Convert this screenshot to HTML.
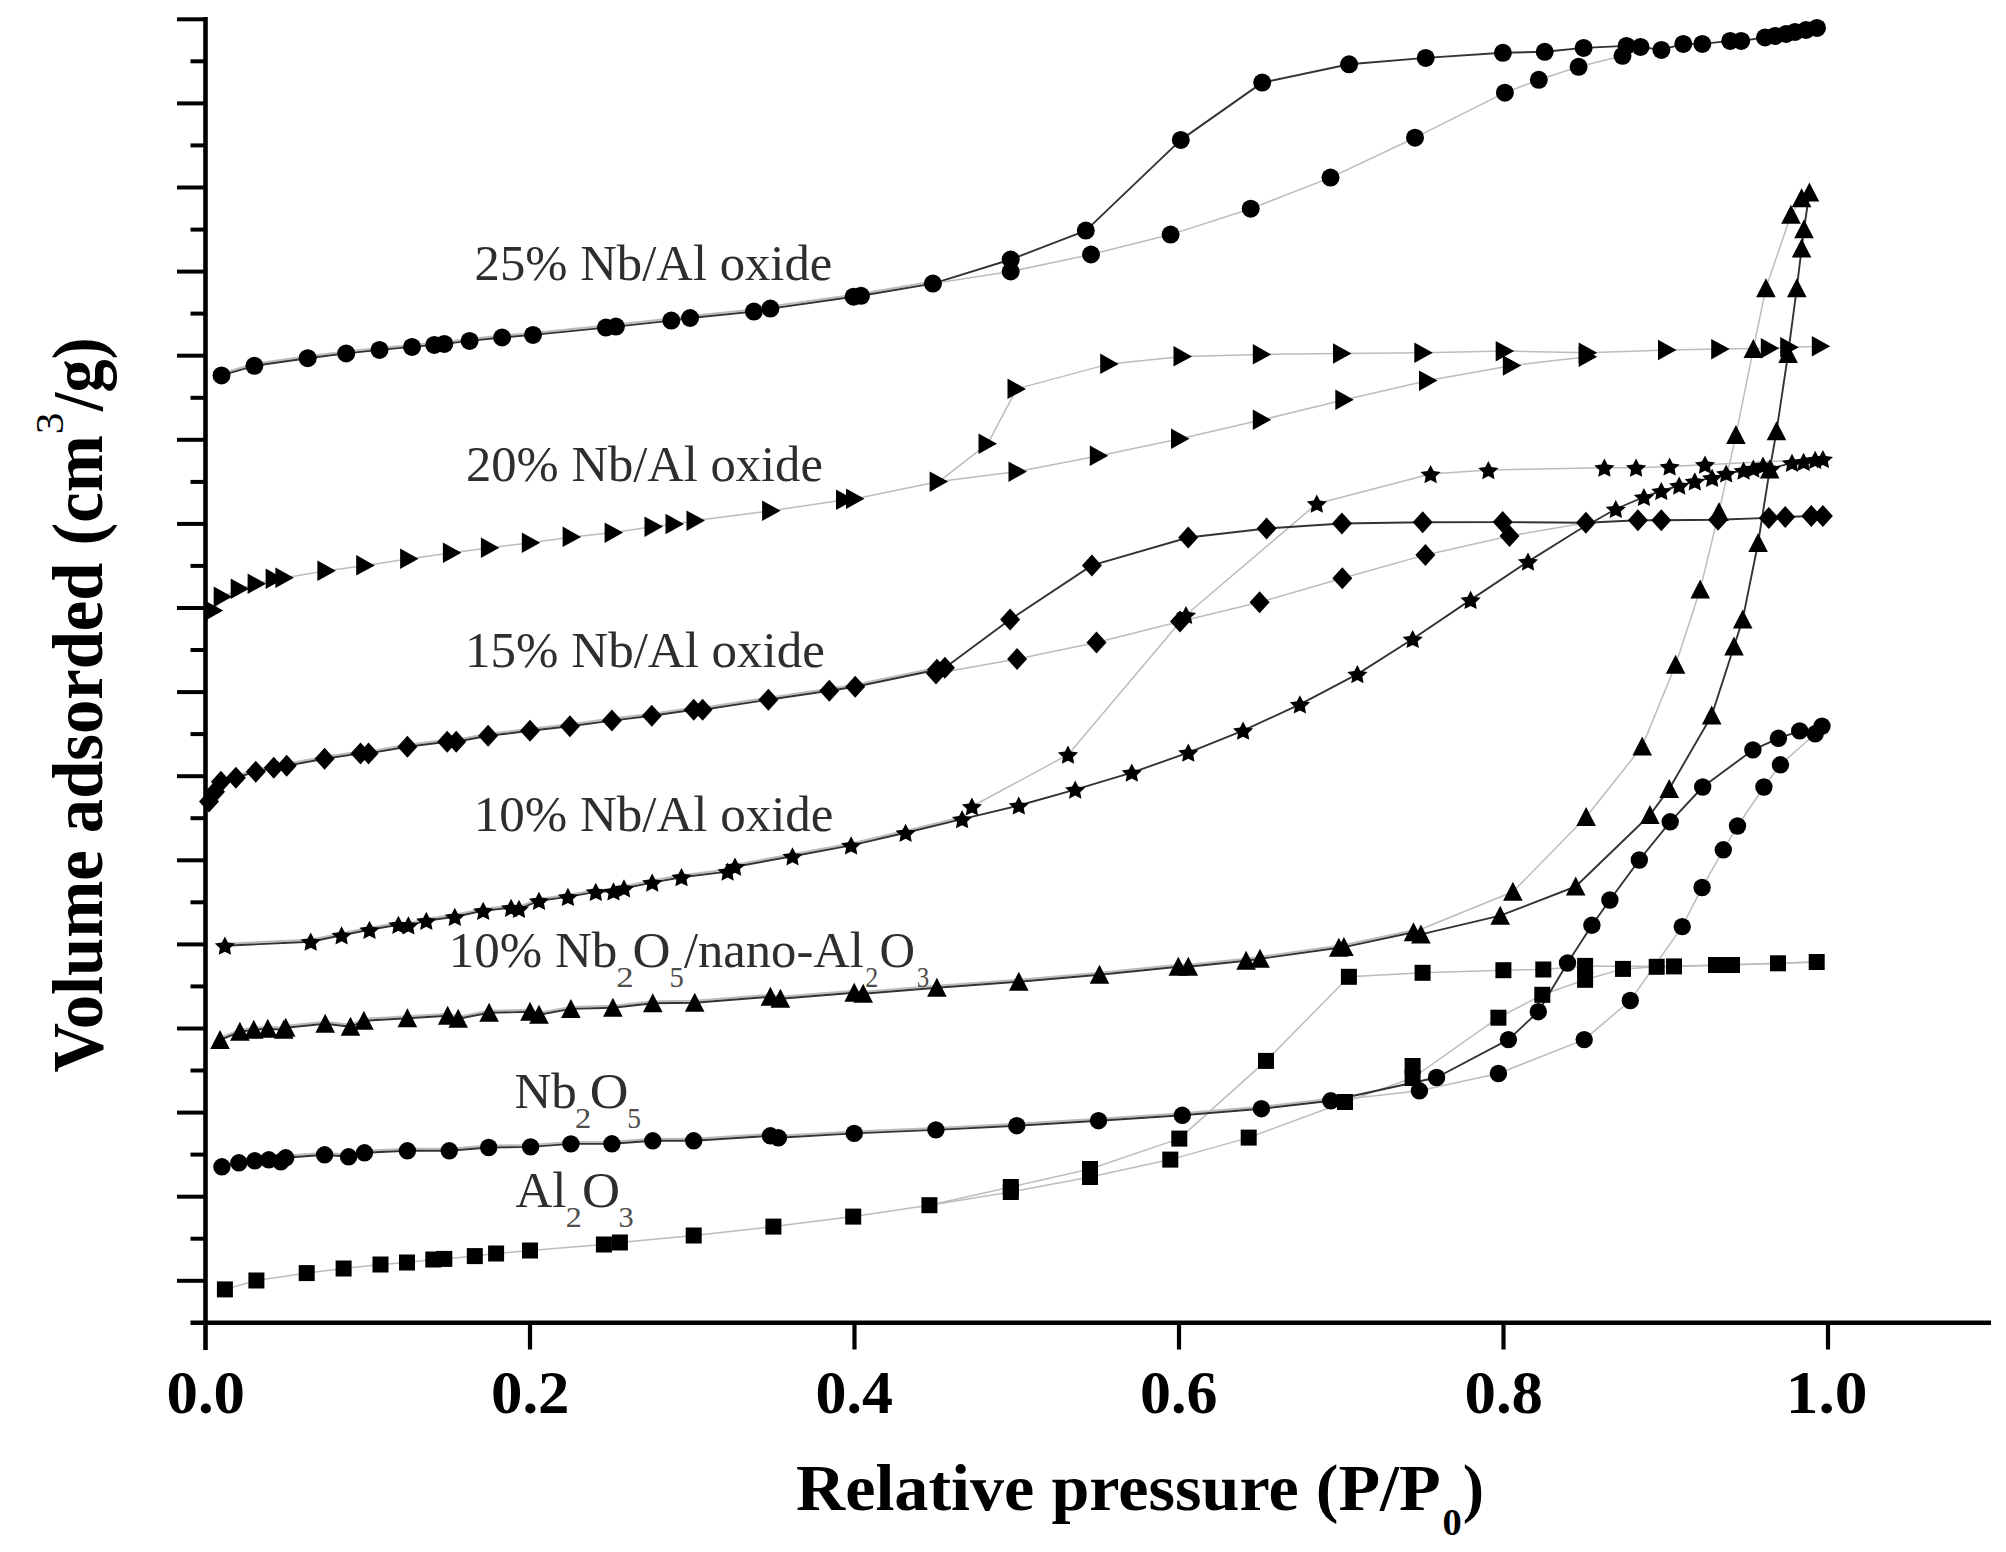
<!DOCTYPE html>
<html><head><meta charset="utf-8"><title>Isotherms</title><style>
html,body{margin:0;padding:0;background:#fff;}
body{width:2006px;height:1552px;overflow:hidden;}
svg{display:block;}
text{font-family:"Liberation Serif",serif;}
.tl{font-family:"Liberation Serif",serif;font-weight:bold;font-size:62px;fill:#000;}
.xt{font-family:"Liberation Serif",serif;font-weight:bold;font-size:65px;fill:#000;}
.yt{font-family:"Liberation Serif",serif;font-weight:bold;font-size:72px;fill:#000;}
.sub0{font-size:34px;}
.sup3{font-size:40px;font-weight:normal;}
.lb{font-family:"Liberation Serif",serif;font-size:51px;fill:#2a2a2a;}
.sb{font-size:29px;}
</style></head>
<body><svg width="2006" height="1552" viewBox="0 0 2006 1552">
<rect width="2006" height="1552" fill="#fff"/>
<g id="lines"><polyline points="224.9,1289.4 256.4,1280.5 306.7,1273.1 343.6,1268.5 380.5,1264.5 407.0,1262.5 433.3,1259.5 444.3,1258.9 474.8,1256.1 496.1,1253.5 530.0,1250.5 603.9,1244.5 619.9,1242.5 693.7,1235.5 773.4,1226.6 853.2,1216.6 929.4,1205.2" fill="none" stroke="#bcbcbc" stroke-width="1.5" stroke-linejoin="round"/><polyline points="929.4,1205.2 1010.8,1192.0 1090.0,1177.0 1170.3,1159.6 1248.7,1137.6 1345.0,1102.0 1412.6,1078.0 1498.4,1017.7 1542.3,994.8 1585.1,979.8 1623.0,968.9 1656.7,966.8 1716.0,965.0 1778.0,963.3 1816.7,962.0" fill="none" stroke="#bcbcbc" stroke-width="1.5" stroke-linejoin="round"/><polyline points="1816.7,962.0 1732.0,965.0 1674.0,966.4 1585.1,965.9 1543.3,969.5 1503.4,970.2 1422.6,972.8 1348.9,976.8 1266.0,1060.9 1179.3,1138.6 1090.0,1169.0 1010.8,1187.0 929.4,1205.2" fill="none" stroke="#bcbcbc" stroke-width="1.5" stroke-linejoin="round"/><polyline points="1330.8,1100.8 1436.6,1077.5 1508.4,1039.6 1538.3,1011.7 1567.5,963.0 1591.9,925.2 1609.9,900.0 1639.3,860.0 1670.2,821.8 1702.7,787.0 1752.9,749.9 1778.4,738.3 1799.7,730.9 1815.2,733.8 1822.0,726.1" fill="none" stroke="#333333" stroke-width="1.9" stroke-linejoin="round"/><polyline points="1822.0,726.1 1815.2,733.8 1780.4,764.8 1763.9,787.0 1737.5,826.0 1723.3,849.8 1702.1,887.5 1682.2,926.6 1630.3,1000.5 1584.2,1039.6 1498.4,1073.5 1419.4,1090.8 1330.8,1100.8" fill="none" stroke="#bcbcbc" stroke-width="1.5" stroke-linejoin="round"/><polyline points="221.9,1164.8 238.9,1160.8 254.8,1158.8 268.8,1157.8 280.8,1159.8 285.7,1155.8 324.6,1152.8 348.6,1154.8 364.5,1150.8 407.4,1148.8 449.3,1148.8 488.7,1145.5 530.6,1144.9 570.9,1141.9 611.9,1141.8 652.8,1138.8 693.7,1138.8 770.4,1133.8 778.4,1135.8 854.2,1131.4 935.9,1127.9 1016.8,1123.7 1098.5,1118.7 1182.3,1113.3 1261.4,1106.7 1330.8,1098.8" fill="none" stroke="#bcbcbc" stroke-width="2.0" stroke-linejoin="round"/><polyline points="221.9,1166.8 238.9,1162.8 254.8,1160.8 268.8,1159.8 280.8,1161.8 285.7,1157.8 324.6,1154.8 348.6,1156.8 364.5,1152.8 407.4,1150.8 449.3,1150.8 488.7,1147.5 530.6,1146.9 570.9,1143.9 611.9,1143.8 652.8,1140.8 693.7,1140.8 770.4,1135.8 778.4,1137.8 854.2,1133.4 935.9,1129.9 1016.8,1125.7 1098.5,1120.7 1182.3,1115.3 1261.4,1108.7 1330.8,1100.8" fill="none" stroke="#333333" stroke-width="1.9" stroke-linejoin="round"/><polyline points="1420.9,934.4 1500.2,915.7 1575.7,886.5 1649.9,815.0 1669.2,788.9 1711.7,715.5 1734.0,646.5 1742.7,619.4 1758.1,543.0 1769.7,469.6 1776.5,431.3 1788.1,353.9 1796.8,288.2 1801.6,248.6 1804.0,229.3 1809.4,192.5" fill="none" stroke="#333333" stroke-width="1.9" stroke-linejoin="round"/><polyline points="1809.4,192.5 1801.6,198.3 1791.0,214.8 1765.9,288.2 1753.3,349.1 1735.9,435.1 1719.0,512.0 1700.2,589.4 1675.6,664.8 1642.2,746.4 1586.1,817.0 1512.9,891.8 1413.5,932.2" fill="none" stroke="#bcbcbc" stroke-width="1.5" stroke-linejoin="round"/><polyline points="220.0,1038.0 239.9,1029.8 253.8,1027.8 267.8,1026.8 283.7,1027.8 285.7,1025.8 325.2,1021.8 350.5,1024.8 363.9,1018.8 407.4,1016.2 447.7,1013.8 458.2,1016.8 489.1,1010.8 530.0,1009.8 539.0,1012.8 570.9,1006.9 612.9,1005.7 652.8,1001.3 694.7,1000.8 770.4,994.8 780.4,996.8 854.2,990.8 863.2,991.8 936.9,985.8 1018.8,979.7 1099.5,972.7 1178.3,964.7 1188.3,964.7 1246.1,958.8 1260.0,956.8 1338.8,945.8 1343.9,945.1 1413.5,930.2 1420.9,932.4" fill="none" stroke="#bcbcbc" stroke-width="2.0" stroke-linejoin="round"/><polyline points="220.0,1040.0 239.9,1031.8 253.8,1029.8 267.8,1028.8 283.7,1029.8 285.7,1027.8 325.2,1023.8 350.5,1026.8 363.9,1020.8 407.4,1018.2 447.7,1015.8 458.2,1018.8 489.1,1012.8 530.0,1011.8 539.0,1014.8 570.9,1008.9 612.9,1007.7 652.8,1003.3 694.7,1002.8 770.4,996.8 780.4,998.8 854.2,992.8 863.2,993.8 936.9,987.8 1018.8,981.7 1099.5,974.7 1178.3,966.7 1188.3,966.7 1246.1,960.8 1260.0,958.8 1338.8,947.8 1343.9,947.1 1413.5,932.2 1420.9,934.4" fill="none" stroke="#333333" stroke-width="1.9" stroke-linejoin="round"/><polyline points="962.1,819.2 1018.8,805.5 1075.2,789.6 1131.8,772.6 1188.3,752.7 1243.1,730.7 1299.9,704.4 1357.4,674.1 1412.7,639.0 1470.6,599.9 1528.0,561.6 1577.0,531.0 1615.8,509.0 1643.9,497.0 1661.3,491.0 1679.2,485.6 1694.8,481.4 1712.1,477.9 1726.2,473.5 1743.6,470.6 1753.3,468.6 1763.0,465.7 1770.7,468.6 1792.0,462.8 1803.6,461.9 1815.2,459.9 1822.9,459.0" fill="none" stroke="#333333" stroke-width="1.9" stroke-linejoin="round"/><polyline points="1822.9,459.0 1705.0,464.7 1669.6,466.5 1636.1,467.7 1604.4,467.7 1488.4,470.1 1430.6,474.1 1316.8,503.7 1186.0,615.0 1068.0,754.7 971.9,806.5 962.1,819.2" fill="none" stroke="#bcbcbc" stroke-width="1.5" stroke-linejoin="round"/><polyline points="224.9,943.7 310.7,939.7 341.6,933.3 369.5,927.8 398.4,922.8 408.4,923.4 426.3,918.8 454.8,914.8 483.2,908.8 511.1,905.8 519.0,906.8 539.0,898.8 567.9,894.9 595.8,889.9 613.5,889.4 624.0,886.3 652.2,880.6 681.5,875.2 727.6,869.6 735.0,864.7 792.5,854.3 851.1,843.4 905.6,830.8 962.1,817.2" fill="none" stroke="#bcbcbc" stroke-width="2.0" stroke-linejoin="round"/><polyline points="224.9,945.7 310.7,941.7 341.6,935.3 369.5,929.8 398.4,924.8 408.4,925.4 426.3,920.8 454.8,916.8 483.2,910.8 511.1,907.8 519.0,908.8 539.0,900.8 567.9,896.9 595.8,891.9 613.5,891.4 624.0,888.3 652.2,882.6 681.5,877.2 727.6,871.6 735.0,866.7 792.5,856.3 851.1,845.4 905.6,832.8 962.1,819.2" fill="none" stroke="#333333" stroke-width="1.9" stroke-linejoin="round"/><polyline points="944.9,667.8 1010.1,619.6 1091.9,565.4 1188.2,537.5 1266.6,528.5 1341.9,523.5 1422.7,522.2 1502.7,522.1 1585.9,522.7 1637.9,520.3 1661.3,520.3 1718.0,519.7 1768.8,517.9 1785.2,517.0 1811.3,516.0 1822.9,516.0" fill="none" stroke="#333333" stroke-width="1.9" stroke-linejoin="round"/><polyline points="936.0,673.5 1017.1,659.1 1096.5,642.6 1180.0,621.5 1259.6,602.3 1342.3,578.2 1425.4,554.9 1509.5,536.0 1585.9,522.7" fill="none" stroke="#bcbcbc" stroke-width="1.5" stroke-linejoin="round"/><polyline points="209.0,799.6 215.0,789.7 220.9,779.7 235.9,775.7 255.8,769.7 273.8,765.7 286.7,763.7 324.6,756.8 360.5,751.4 368.5,751.4 407.4,744.8 447.2,739.8 456.2,739.8 488.1,733.8 530.0,728.8 569.9,724.3 611.9,718.6 651.8,713.7 693.7,707.7 702.6,707.7 768.4,697.7 829.3,688.7 855.2,684.7 936.9,667.8 944.9,665.8" fill="none" stroke="#bcbcbc" stroke-width="2.0" stroke-linejoin="round"/><polyline points="209.0,801.6 215.0,791.7 220.9,781.7 235.9,777.7 255.8,771.7 273.8,767.7 286.7,765.7 324.6,758.8 360.5,753.4 368.5,753.4 407.4,746.8 447.2,741.8 456.2,741.8 488.1,735.8 530.0,730.8 569.9,726.3 611.9,720.6 651.8,715.7 693.7,709.7 702.6,709.7 768.4,699.7 829.3,690.7 855.2,686.7 936.9,669.8 944.9,667.8" fill="none" stroke="#333333" stroke-width="1.9" stroke-linejoin="round"/><polyline points="213.9,610.6 222.9,596.7 239.9,588.7 256.8,583.7 274.8,578.7 284.7,577.7 326.6,570.8 365.5,565.4 409.4,558.8 452.2,552.8 490.1,547.8 531.0,542.8 571.9,536.9 613.9,532.6 653.8,526.6 674.7,524.0 695.7,520.6 771.4,510.7 845.2,499.7 855.2,498.7 938.9,481.6" fill="none" stroke="#bcbcbc" stroke-width="1.5" stroke-linejoin="round"/><polyline points="938.9,481.6 987.8,443.7 1016.7,388.9 1109.4,363.9 1182.8,356.4 1262.0,354.4 1342.2,353.5 1423.6,352.7 1504.9,351.1 1587.9,352.7 1667.3,350.0 1720.4,349.1 1770.0,348.3 1789.5,347.2 1821.0,346.2" fill="none" stroke="#bcbcbc" stroke-width="1.5" stroke-linejoin="round"/><polyline points="938.9,481.6 1017.7,471.6 1099.1,455.7 1180.2,438.7 1262.0,419.8 1344.6,399.8 1428.3,380.6 1512.1,365.5 1587.9,356.7" fill="none" stroke="#bcbcbc" stroke-width="1.5" stroke-linejoin="round"/><polyline points="932.9,283.6 1010.7,259.5 1085.8,230.6 1180.8,139.9 1262.2,82.6 1349.1,64.3 1425.7,57.9 1502.9,52.8 1544.7,51.8 1583.6,47.9 1626.5,45.9 1640.5,46.9 1661.4,49.9 1683.3,43.9 1702.3,43.9 1730.2,40.9 1741.2,40.9 1765.0,37.5 1775.0,35.9 1786.0,34.0 1795.0,31.9 1806.0,30.0 1817.0,27.9" fill="none" stroke="#333333" stroke-width="1.9" stroke-linejoin="round"/><polyline points="932.9,283.6 1010.7,271.5 1091.0,254.5 1170.6,234.6 1250.7,208.7 1330.5,177.6 1415.0,137.7 1504.9,92.7 1538.8,79.8 1578.6,66.8 1622.5,55.8 1626.5,45.9" fill="none" stroke="#bcbcbc" stroke-width="1.5" stroke-linejoin="round"/><polyline points="221.5,373.4 254.4,363.8 307.7,356.2 346.2,351.4 379.5,347.9 412.0,344.9 434.3,342.9 444.3,341.9 469.6,338.9 502.1,335.5 533.0,332.9 605.9,325.6 615.9,324.6 671.3,318.6 690.1,316.0 753.9,309.6 770.4,306.6 853.6,294.7 861.0,293.8 932.9,281.6" fill="none" stroke="#bcbcbc" stroke-width="2.0" stroke-linejoin="round"/><polyline points="221.5,375.4 254.4,365.8 307.7,358.2 346.2,353.4 379.5,349.9 412.0,346.9 434.3,344.9 444.3,343.9 469.6,340.9 502.1,337.5 533.0,334.9 605.9,327.6 615.9,326.6 671.3,320.6 690.1,318.0 753.9,311.6 770.4,308.6 853.6,296.7 861.0,295.8 932.9,283.6" fill="none" stroke="#333333" stroke-width="1.9" stroke-linejoin="round"/></g>
<g id="marks" fill="#000"><rect x="216.9" y="1281.4" width="16" height="16"/><rect x="248.4" y="1272.5" width="16" height="16"/><rect x="298.7" y="1265.1" width="16" height="16"/><rect x="335.6" y="1260.5" width="16" height="16"/><rect x="372.5" y="1256.5" width="16" height="16"/><rect x="399.0" y="1254.5" width="16" height="16"/><rect x="425.3" y="1251.5" width="16" height="16"/><rect x="436.3" y="1250.9" width="16" height="16"/><rect x="466.8" y="1248.1" width="16" height="16"/><rect x="488.1" y="1245.5" width="16" height="16"/><rect x="522.0" y="1242.5" width="16" height="16"/><rect x="595.9" y="1236.5" width="16" height="16"/><rect x="611.9" y="1234.5" width="16" height="16"/><rect x="685.7" y="1227.5" width="16" height="16"/><rect x="765.4" y="1218.6" width="16" height="16"/><rect x="845.2" y="1208.6" width="16" height="16"/><rect x="921.4" y="1197.2" width="16" height="16"/><rect x="1002.8" y="1184.0" width="16" height="16"/><rect x="1082.0" y="1169.0" width="16" height="16"/><rect x="1162.3" y="1151.6" width="16" height="16"/><rect x="1240.7" y="1129.6" width="16" height="16"/><rect x="1337.0" y="1094.0" width="16" height="16"/><rect x="1404.6" y="1070.0" width="16" height="16"/><rect x="1490.4" y="1009.7" width="16" height="16"/><rect x="1534.3" y="986.8" width="16" height="16"/><rect x="1577.1" y="971.8" width="16" height="16"/><rect x="1615.0" y="960.9" width="16" height="16"/><rect x="1648.7" y="958.8" width="16" height="16"/><rect x="1708.0" y="957.0" width="16" height="16"/><rect x="1770.0" y="955.3" width="16" height="16"/><rect x="1808.7" y="954.0" width="16" height="16"/><rect x="1724.0" y="957.0" width="16" height="16"/><rect x="1666.0" y="958.4" width="16" height="16"/><rect x="1577.1" y="957.9" width="16" height="16"/><rect x="1535.3" y="961.5" width="16" height="16"/><rect x="1495.4" y="962.2" width="16" height="16"/><rect x="1414.6" y="964.8" width="16" height="16"/><rect x="1340.9" y="968.8" width="16" height="16"/><rect x="1258.0" y="1052.9" width="16" height="16"/><rect x="1171.3" y="1130.6" width="16" height="16"/><rect x="1082.0" y="1161.0" width="16" height="16"/><rect x="1002.8" y="1179.0" width="16" height="16"/><rect x="1404.6" y="1058.0" width="16" height="16"/><circle cx="221.9" cy="1166.8" r="8.7"/><circle cx="238.9" cy="1162.8" r="8.7"/><circle cx="254.8" cy="1160.8" r="8.7"/><circle cx="268.8" cy="1159.8" r="8.7"/><circle cx="280.8" cy="1161.8" r="8.7"/><circle cx="285.7" cy="1157.8" r="8.7"/><circle cx="324.6" cy="1154.8" r="8.7"/><circle cx="348.6" cy="1156.8" r="8.7"/><circle cx="364.5" cy="1152.8" r="8.7"/><circle cx="407.4" cy="1150.8" r="8.7"/><circle cx="449.3" cy="1150.8" r="8.7"/><circle cx="488.7" cy="1147.5" r="8.7"/><circle cx="530.6" cy="1146.9" r="8.7"/><circle cx="570.9" cy="1143.9" r="8.7"/><circle cx="611.9" cy="1143.8" r="8.7"/><circle cx="652.8" cy="1140.8" r="8.7"/><circle cx="693.7" cy="1140.8" r="8.7"/><circle cx="770.4" cy="1135.8" r="8.7"/><circle cx="778.4" cy="1137.8" r="8.7"/><circle cx="854.2" cy="1133.4" r="8.7"/><circle cx="935.9" cy="1129.9" r="8.7"/><circle cx="1016.8" cy="1125.7" r="8.7"/><circle cx="1098.5" cy="1120.7" r="8.7"/><circle cx="1182.3" cy="1115.3" r="8.7"/><circle cx="1261.4" cy="1108.7" r="8.7"/><circle cx="1330.8" cy="1100.8" r="8.7"/><circle cx="1436.6" cy="1077.5" r="8.7"/><circle cx="1508.4" cy="1039.6" r="8.7"/><circle cx="1538.3" cy="1011.7" r="8.7"/><circle cx="1567.5" cy="963.0" r="8.7"/><circle cx="1591.9" cy="925.2" r="8.7"/><circle cx="1609.9" cy="900.0" r="8.7"/><circle cx="1639.3" cy="860.0" r="8.7"/><circle cx="1670.2" cy="821.8" r="8.7"/><circle cx="1702.7" cy="787.0" r="8.7"/><circle cx="1752.9" cy="749.9" r="8.7"/><circle cx="1778.4" cy="738.3" r="8.7"/><circle cx="1799.7" cy="730.9" r="8.7"/><circle cx="1815.2" cy="733.8" r="8.7"/><circle cx="1822.0" cy="726.1" r="8.7"/><circle cx="1780.4" cy="764.8" r="8.7"/><circle cx="1763.9" cy="787.0" r="8.7"/><circle cx="1737.5" cy="826.0" r="8.7"/><circle cx="1723.3" cy="849.8" r="8.7"/><circle cx="1702.1" cy="887.5" r="8.7"/><circle cx="1682.2" cy="926.6" r="8.7"/><circle cx="1630.3" cy="1000.5" r="8.7"/><circle cx="1584.2" cy="1039.6" r="8.7"/><circle cx="1498.4" cy="1073.5" r="8.7"/><circle cx="1419.4" cy="1090.8" r="8.7"/><polygon points="220.0,1030.0 229.8,1049.0 210.2,1049.0"/><polygon points="239.9,1021.8 249.7,1040.8 230.1,1040.8"/><polygon points="253.8,1019.8 263.6,1038.8 244.0,1038.8"/><polygon points="267.8,1018.8 277.6,1037.8 258.0,1037.8"/><polygon points="283.7,1019.8 293.5,1038.8 273.9,1038.8"/><polygon points="285.7,1017.8 295.5,1036.8 275.9,1036.8"/><polygon points="325.2,1013.8 335.0,1032.8 315.4,1032.8"/><polygon points="350.5,1016.8 360.3,1035.8 340.7,1035.8"/><polygon points="363.9,1010.8 373.7,1029.8 354.1,1029.8"/><polygon points="407.4,1008.2 417.2,1027.2 397.6,1027.2"/><polygon points="447.7,1005.8 457.5,1024.8 437.9,1024.8"/><polygon points="458.2,1008.8 468.0,1027.8 448.4,1027.8"/><polygon points="489.1,1002.8 498.9,1021.8 479.3,1021.8"/><polygon points="530.0,1001.8 539.8,1020.8 520.2,1020.8"/><polygon points="539.0,1004.8 548.8,1023.8 529.2,1023.8"/><polygon points="570.9,998.9 580.7,1017.9 561.1,1017.9"/><polygon points="612.9,997.7 622.7,1016.7 603.1,1016.7"/><polygon points="652.8,993.3 662.6,1012.3 643.0,1012.3"/><polygon points="694.7,992.8 704.5,1011.8 684.9,1011.8"/><polygon points="770.4,986.8 780.2,1005.8 760.6,1005.8"/><polygon points="780.4,988.8 790.2,1007.8 770.6,1007.8"/><polygon points="854.2,982.8 864.0,1001.8 844.4,1001.8"/><polygon points="863.2,983.8 873.0,1002.8 853.4,1002.8"/><polygon points="936.9,977.8 946.7,996.8 927.1,996.8"/><polygon points="1018.8,971.7 1028.6,990.7 1009.0,990.7"/><polygon points="1099.5,964.7 1109.3,983.7 1089.7,983.7"/><polygon points="1178.3,956.7 1188.1,975.7 1168.5,975.7"/><polygon points="1188.3,956.7 1198.1,975.7 1178.5,975.7"/><polygon points="1246.1,950.8 1255.9,969.8 1236.3,969.8"/><polygon points="1260.0,948.8 1269.8,967.8 1250.2,967.8"/><polygon points="1338.8,937.8 1348.6,956.8 1329.0,956.8"/><polygon points="1343.9,937.1 1353.7,956.1 1334.1,956.1"/><polygon points="1413.5,922.2 1423.3,941.2 1403.7,941.2"/><polygon points="1420.9,924.4 1430.7,943.4 1411.1,943.4"/><polygon points="1500.2,905.7 1510.0,924.7 1490.4,924.7"/><polygon points="1575.7,876.5 1585.5,895.5 1565.9,895.5"/><polygon points="1649.9,805.0 1659.7,824.0 1640.1,824.0"/><polygon points="1669.2,778.9 1679.0,797.9 1659.4,797.9"/><polygon points="1711.7,705.5 1721.5,724.5 1701.9,724.5"/><polygon points="1734.0,636.5 1743.8,655.5 1724.2,655.5"/><polygon points="1742.7,609.4 1752.5,628.4 1732.9,628.4"/><polygon points="1758.1,533.0 1767.9,552.0 1748.3,552.0"/><polygon points="1769.7,459.6 1779.5,478.6 1759.9,478.6"/><polygon points="1776.5,421.3 1786.3,440.3 1766.7,440.3"/><polygon points="1788.1,343.9 1797.9,362.9 1778.3,362.9"/><polygon points="1796.8,278.2 1806.6,297.2 1787.0,297.2"/><polygon points="1801.6,238.6 1811.4,257.6 1791.8,257.6"/><polygon points="1804.0,219.3 1813.8,238.3 1794.2,238.3"/><polygon points="1809.4,182.5 1819.2,201.5 1799.6,201.5"/><polygon points="1801.6,188.3 1811.4,207.3 1791.8,207.3"/><polygon points="1791.0,204.8 1800.8,223.8 1781.2,223.8"/><polygon points="1765.9,278.2 1775.7,297.2 1756.1,297.2"/><polygon points="1753.3,339.1 1763.1,358.1 1743.5,358.1"/><polygon points="1735.9,425.1 1745.7,444.1 1726.1,444.1"/><polygon points="1719.0,502.0 1728.8,521.0 1709.2,521.0"/><polygon points="1700.2,579.4 1710.0,598.4 1690.4,598.4"/><polygon points="1675.6,654.8 1685.4,673.8 1665.8,673.8"/><polygon points="1642.2,736.4 1652.0,755.4 1632.4,755.4"/><polygon points="1586.1,807.0 1595.9,826.0 1576.3,826.0"/><polygon points="1512.9,881.8 1522.7,900.8 1503.1,900.8"/><polygon points="224.9,936.6 228.0,942.6 235.0,943.6 229.9,948.3 231.1,954.8 224.9,951.7 218.7,954.8 219.9,948.3 214.8,943.6 221.8,942.6"/><polygon points="310.7,932.6 313.8,938.6 320.8,939.6 315.7,944.3 316.9,950.8 310.7,947.7 304.5,950.8 305.7,944.3 300.6,939.6 307.6,938.6"/><polygon points="341.6,926.2 344.7,932.2 351.7,933.2 346.6,937.9 347.8,944.4 341.6,941.3 335.4,944.4 336.6,937.9 331.5,933.2 338.5,932.2"/><polygon points="369.5,920.7 372.6,926.7 379.6,927.7 374.5,932.4 375.7,938.9 369.5,935.8 363.3,938.9 364.5,932.4 359.4,927.7 366.4,926.7"/><polygon points="398.4,915.7 401.5,921.7 408.5,922.7 403.4,927.4 404.6,933.9 398.4,930.8 392.2,933.9 393.4,927.4 388.3,922.7 395.3,921.7"/><polygon points="408.4,916.3 411.5,922.3 418.5,923.3 413.4,928.0 414.6,934.5 408.4,931.4 402.2,934.5 403.4,928.0 398.3,923.3 405.3,922.3"/><polygon points="426.3,911.7 429.4,917.7 436.4,918.7 431.3,923.4 432.5,929.9 426.3,926.8 420.1,929.9 421.3,923.4 416.2,918.7 423.2,917.7"/><polygon points="454.8,907.7 457.9,913.7 464.9,914.7 459.8,919.4 461.0,925.9 454.8,922.8 448.6,925.9 449.8,919.4 444.7,914.7 451.7,913.7"/><polygon points="483.2,901.7 486.3,907.7 493.3,908.7 488.2,913.4 489.4,919.9 483.2,916.8 477.0,919.9 478.2,913.4 473.1,908.7 480.1,907.7"/><polygon points="511.1,898.7 514.2,904.7 521.2,905.7 516.1,910.4 517.3,916.9 511.1,913.8 504.9,916.9 506.1,910.4 501.0,905.7 508.0,904.7"/><polygon points="519.0,899.7 522.1,905.7 529.1,906.7 524.0,911.4 525.2,917.9 519.0,914.8 512.8,917.9 514.0,911.4 508.9,906.7 515.9,905.7"/><polygon points="539.0,891.7 542.1,897.7 549.1,898.7 544.0,903.4 545.2,909.9 539.0,906.8 532.8,909.9 534.0,903.4 528.9,898.7 535.9,897.7"/><polygon points="567.9,887.8 571.0,893.8 578.0,894.8 572.9,899.5 574.1,906.0 567.9,902.9 561.7,906.0 562.9,899.5 557.8,894.8 564.8,893.8"/><polygon points="595.8,882.8 598.9,888.8 605.9,889.8 600.8,894.5 602.0,901.0 595.8,897.9 589.6,901.0 590.8,894.5 585.7,889.8 592.7,888.8"/><polygon points="613.5,882.3 616.6,888.3 623.6,889.3 618.5,894.0 619.7,900.5 613.5,897.4 607.3,900.5 608.5,894.0 603.4,889.3 610.4,888.3"/><polygon points="624.0,879.2 627.1,885.2 634.1,886.2 629.0,890.9 630.2,897.4 624.0,894.3 617.8,897.4 619.0,890.9 613.9,886.2 620.9,885.2"/><polygon points="652.2,873.5 655.3,879.5 662.3,880.5 657.2,885.2 658.4,891.7 652.2,888.6 646.0,891.7 647.2,885.2 642.1,880.5 649.1,879.5"/><polygon points="681.5,868.1 684.6,874.1 691.6,875.1 686.5,879.8 687.7,886.3 681.5,883.2 675.3,886.3 676.5,879.8 671.4,875.1 678.4,874.1"/><polygon points="727.6,862.5 730.7,868.5 737.7,869.5 732.6,874.2 733.8,880.7 727.6,877.6 721.4,880.7 722.6,874.2 717.5,869.5 724.5,868.5"/><polygon points="735.0,857.6 738.1,863.6 745.1,864.6 740.0,869.3 741.2,875.8 735.0,872.7 728.8,875.8 730.0,869.3 724.9,864.6 731.9,863.6"/><polygon points="792.5,847.2 795.6,853.2 802.6,854.2 797.5,858.9 798.7,865.4 792.5,862.3 786.3,865.4 787.5,858.9 782.4,854.2 789.4,853.2"/><polygon points="851.1,836.3 854.2,842.3 861.2,843.3 856.1,848.0 857.3,854.5 851.1,851.4 844.9,854.5 846.1,848.0 841.0,843.3 848.0,842.3"/><polygon points="905.6,823.7 908.7,829.7 915.7,830.7 910.6,835.4 911.8,841.9 905.6,838.8 899.4,841.9 900.6,835.4 895.5,830.7 902.5,829.7"/><polygon points="962.1,810.1 965.2,816.1 972.2,817.1 967.1,821.8 968.3,828.3 962.1,825.2 955.9,828.3 957.1,821.8 952.0,817.1 959.0,816.1"/><polygon points="1018.8,796.4 1021.9,802.4 1028.9,803.4 1023.8,808.1 1025.0,814.6 1018.8,811.5 1012.6,814.6 1013.8,808.1 1008.7,803.4 1015.7,802.4"/><polygon points="1075.2,780.5 1078.3,786.5 1085.3,787.5 1080.2,792.2 1081.4,798.7 1075.2,795.6 1069.0,798.7 1070.2,792.2 1065.1,787.5 1072.1,786.5"/><polygon points="1131.8,763.5 1134.9,769.5 1141.9,770.5 1136.8,775.2 1138.0,781.7 1131.8,778.6 1125.6,781.7 1126.8,775.2 1121.7,770.5 1128.7,769.5"/><polygon points="1188.3,743.6 1191.4,749.6 1198.4,750.6 1193.3,755.3 1194.5,761.8 1188.3,758.7 1182.1,761.8 1183.3,755.3 1178.2,750.6 1185.2,749.6"/><polygon points="1243.1,721.6 1246.2,727.6 1253.2,728.6 1248.1,733.3 1249.3,739.8 1243.1,736.7 1236.9,739.8 1238.1,733.3 1233.0,728.6 1240.0,727.6"/><polygon points="1299.9,695.3 1303.0,701.3 1310.0,702.3 1304.9,707.0 1306.1,713.5 1299.9,710.4 1293.7,713.5 1294.9,707.0 1289.8,702.3 1296.8,701.3"/><polygon points="1357.4,665.0 1360.5,671.0 1367.5,672.0 1362.4,676.7 1363.6,683.2 1357.4,680.1 1351.2,683.2 1352.4,676.7 1347.3,672.0 1354.3,671.0"/><polygon points="1412.7,629.9 1415.8,635.9 1422.8,636.9 1417.7,641.6 1418.9,648.1 1412.7,645.0 1406.5,648.1 1407.7,641.6 1402.6,636.9 1409.6,635.9"/><polygon points="1470.6,590.8 1473.7,596.8 1480.7,597.8 1475.6,602.5 1476.8,609.0 1470.6,605.9 1464.4,609.0 1465.6,602.5 1460.5,597.8 1467.5,596.8"/><polygon points="1528.0,552.5 1531.1,558.5 1538.1,559.5 1533.0,564.2 1534.2,570.7 1528.0,567.6 1521.8,570.7 1523.0,564.2 1517.9,559.5 1524.9,558.5"/><polygon points="1615.8,499.9 1618.9,505.9 1625.9,506.9 1620.8,511.6 1622.0,518.1 1615.8,515.0 1609.6,518.1 1610.8,511.6 1605.7,506.9 1612.7,505.9"/><polygon points="1643.9,487.9 1647.0,493.9 1654.0,494.9 1648.9,499.6 1650.1,506.1 1643.9,503.0 1637.7,506.1 1638.9,499.6 1633.8,494.9 1640.8,493.9"/><polygon points="1661.3,481.9 1664.4,487.9 1671.4,488.9 1666.3,493.6 1667.5,500.1 1661.3,497.0 1655.1,500.1 1656.3,493.6 1651.2,488.9 1658.2,487.9"/><polygon points="1679.2,476.5 1682.3,482.5 1689.3,483.5 1684.2,488.2 1685.4,494.7 1679.2,491.6 1673.0,494.7 1674.2,488.2 1669.1,483.5 1676.1,482.5"/><polygon points="1694.8,472.3 1697.9,478.3 1704.9,479.3 1699.8,484.0 1701.0,490.5 1694.8,487.4 1688.6,490.5 1689.8,484.0 1684.7,479.3 1691.7,478.3"/><polygon points="1712.1,468.8 1715.2,474.8 1722.2,475.8 1717.1,480.5 1718.3,487.0 1712.1,483.9 1705.9,487.0 1707.1,480.5 1702.0,475.8 1709.0,474.8"/><polygon points="1726.2,464.4 1729.3,470.4 1736.3,471.4 1731.2,476.1 1732.4,482.6 1726.2,479.5 1720.0,482.6 1721.2,476.1 1716.1,471.4 1723.1,470.4"/><polygon points="1743.6,461.5 1746.7,467.5 1753.7,468.5 1748.6,473.2 1749.8,479.7 1743.6,476.6 1737.4,479.7 1738.6,473.2 1733.5,468.5 1740.5,467.5"/><polygon points="1753.3,459.5 1756.4,465.5 1763.4,466.5 1758.3,471.2 1759.5,477.7 1753.3,474.6 1747.1,477.7 1748.3,471.2 1743.2,466.5 1750.2,465.5"/><polygon points="1763.0,456.6 1766.1,462.6 1773.1,463.6 1768.0,468.3 1769.2,474.8 1763.0,471.7 1756.8,474.8 1758.0,468.3 1752.9,463.6 1759.9,462.6"/><polygon points="1770.7,459.5 1773.8,465.5 1780.8,466.5 1775.7,471.2 1776.9,477.7 1770.7,474.6 1764.5,477.7 1765.7,471.2 1760.6,466.5 1767.6,465.5"/><polygon points="1792.0,453.7 1795.1,459.7 1802.1,460.7 1797.0,465.4 1798.2,471.9 1792.0,468.8 1785.8,471.9 1787.0,465.4 1781.9,460.7 1788.9,459.7"/><polygon points="1803.6,452.8 1806.7,458.8 1813.7,459.8 1808.6,464.5 1809.8,471.0 1803.6,467.9 1797.4,471.0 1798.6,464.5 1793.5,459.8 1800.5,458.8"/><polygon points="1815.2,450.8 1818.3,456.8 1825.3,457.8 1820.2,462.5 1821.4,469.0 1815.2,465.9 1809.0,469.0 1810.2,462.5 1805.1,457.8 1812.1,456.8"/><polygon points="1822.9,449.9 1826.0,455.9 1833.0,456.9 1827.9,461.6 1829.1,468.1 1822.9,465.0 1816.7,468.1 1817.9,461.6 1812.8,456.9 1819.8,455.9"/><polygon points="1705.0,455.6 1708.1,461.6 1715.1,462.6 1710.0,467.3 1711.2,473.8 1705.0,470.7 1698.8,473.8 1700.0,467.3 1694.9,462.6 1701.9,461.6"/><polygon points="1669.6,457.4 1672.7,463.4 1679.7,464.4 1674.6,469.1 1675.8,475.6 1669.6,472.5 1663.4,475.6 1664.6,469.1 1659.5,464.4 1666.5,463.4"/><polygon points="1636.1,458.6 1639.2,464.6 1646.2,465.6 1641.1,470.3 1642.3,476.8 1636.1,473.7 1629.9,476.8 1631.1,470.3 1626.0,465.6 1633.0,464.6"/><polygon points="1604.4,458.6 1607.5,464.6 1614.5,465.6 1609.4,470.3 1610.6,476.8 1604.4,473.7 1598.2,476.8 1599.4,470.3 1594.3,465.6 1601.3,464.6"/><polygon points="1488.4,461.0 1491.5,467.0 1498.5,468.0 1493.4,472.7 1494.6,479.2 1488.4,476.1 1482.2,479.2 1483.4,472.7 1478.3,468.0 1485.3,467.0"/><polygon points="1430.6,465.0 1433.7,471.0 1440.7,472.0 1435.6,476.7 1436.8,483.2 1430.6,480.1 1424.4,483.2 1425.6,476.7 1420.5,472.0 1427.5,471.0"/><polygon points="1316.8,494.6 1319.9,500.6 1326.9,501.6 1321.8,506.3 1323.0,512.8 1316.8,509.7 1310.6,512.8 1311.8,506.3 1306.7,501.6 1313.7,500.6"/><polygon points="1186.0,605.9 1189.1,611.9 1196.1,612.9 1191.0,617.6 1192.2,624.1 1186.0,621.0 1179.8,624.1 1181.0,617.6 1175.9,612.9 1182.9,611.9"/><polygon points="1068.0,745.6 1071.1,751.6 1078.1,752.6 1073.0,757.3 1074.2,763.8 1068.0,760.7 1061.8,763.8 1063.0,757.3 1057.9,752.6 1064.9,751.6"/><polygon points="971.9,797.4 975.0,803.4 982.0,804.4 976.9,809.1 978.1,815.6 971.9,812.5 965.7,815.6 966.9,809.1 961.8,804.4 968.8,803.4"/><polygon points="209.0,790.6 219.0,801.6 209.0,812.6 199.0,801.6"/><polygon points="215.0,780.7 225.0,791.7 215.0,802.7 205.0,791.7"/><polygon points="220.9,770.7 230.9,781.7 220.9,792.7 210.9,781.7"/><polygon points="235.9,766.7 245.9,777.7 235.9,788.7 225.9,777.7"/><polygon points="255.8,760.7 265.8,771.7 255.8,782.7 245.8,771.7"/><polygon points="273.8,756.7 283.8,767.7 273.8,778.7 263.8,767.7"/><polygon points="286.7,754.7 296.7,765.7 286.7,776.7 276.7,765.7"/><polygon points="324.6,747.8 334.6,758.8 324.6,769.8 314.6,758.8"/><polygon points="360.5,742.4 370.5,753.4 360.5,764.4 350.5,753.4"/><polygon points="368.5,742.4 378.5,753.4 368.5,764.4 358.5,753.4"/><polygon points="407.4,735.8 417.4,746.8 407.4,757.8 397.4,746.8"/><polygon points="447.2,730.8 457.2,741.8 447.2,752.8 437.2,741.8"/><polygon points="456.2,730.8 466.2,741.8 456.2,752.8 446.2,741.8"/><polygon points="488.1,724.8 498.1,735.8 488.1,746.8 478.1,735.8"/><polygon points="530.0,719.8 540.0,730.8 530.0,741.8 520.0,730.8"/><polygon points="569.9,715.3 579.9,726.3 569.9,737.3 559.9,726.3"/><polygon points="611.9,709.6 621.9,720.6 611.9,731.6 601.9,720.6"/><polygon points="651.8,704.7 661.8,715.7 651.8,726.7 641.8,715.7"/><polygon points="693.7,698.7 703.7,709.7 693.7,720.7 683.7,709.7"/><polygon points="702.6,698.7 712.6,709.7 702.6,720.7 692.6,709.7"/><polygon points="768.4,688.7 778.4,699.7 768.4,710.7 758.4,699.7"/><polygon points="829.3,679.7 839.3,690.7 829.3,701.7 819.3,690.7"/><polygon points="855.2,675.7 865.2,686.7 855.2,697.7 845.2,686.7"/><polygon points="936.9,658.8 946.9,669.8 936.9,680.8 926.9,669.8"/><polygon points="944.9,656.8 954.9,667.8 944.9,678.8 934.9,667.8"/><polygon points="1010.1,608.6 1020.1,619.6 1010.1,630.6 1000.1,619.6"/><polygon points="1091.9,554.4 1101.9,565.4 1091.9,576.4 1081.9,565.4"/><polygon points="1188.2,526.5 1198.2,537.5 1188.2,548.5 1178.2,537.5"/><polygon points="1266.6,517.5 1276.6,528.5 1266.6,539.5 1256.6,528.5"/><polygon points="1341.9,512.5 1351.9,523.5 1341.9,534.5 1331.9,523.5"/><polygon points="1422.7,511.2 1432.7,522.2 1422.7,533.2 1412.7,522.2"/><polygon points="1502.7,511.1 1512.7,522.1 1502.7,533.1 1492.7,522.1"/><polygon points="1585.9,511.7 1595.9,522.7 1585.9,533.7 1575.9,522.7"/><polygon points="1637.9,509.3 1647.9,520.3 1637.9,531.3 1627.9,520.3"/><polygon points="1661.3,509.3 1671.3,520.3 1661.3,531.3 1651.3,520.3"/><polygon points="1718.0,508.7 1728.0,519.7 1718.0,530.7 1708.0,519.7"/><polygon points="1768.8,506.9 1778.8,517.9 1768.8,528.9 1758.8,517.9"/><polygon points="1785.2,506.0 1795.2,517.0 1785.2,528.0 1775.2,517.0"/><polygon points="1811.3,505.0 1821.3,516.0 1811.3,527.0 1801.3,516.0"/><polygon points="1822.9,505.0 1832.9,516.0 1822.9,527.0 1812.9,516.0"/><polygon points="936.0,662.5 946.0,673.5 936.0,684.5 926.0,673.5"/><polygon points="1017.1,648.1 1027.1,659.1 1017.1,670.1 1007.1,659.1"/><polygon points="1096.5,631.6 1106.5,642.6 1096.5,653.6 1086.5,642.6"/><polygon points="1180.0,610.5 1190.0,621.5 1180.0,632.5 1170.0,621.5"/><polygon points="1259.6,591.3 1269.6,602.3 1259.6,613.3 1249.6,602.3"/><polygon points="1342.3,567.2 1352.3,578.2 1342.3,589.2 1332.3,578.2"/><polygon points="1425.4,543.9 1435.4,554.9 1425.4,565.9 1415.4,554.9"/><polygon points="1509.5,525.0 1519.5,536.0 1509.5,547.0 1499.5,536.0"/><polygon points="204.7,600.4 223.2,610.6 204.7,620.9"/><polygon points="213.7,586.5 232.2,596.7 213.7,607.0"/><polygon points="230.7,578.5 249.2,588.7 230.7,599.0"/><polygon points="247.6,573.5 266.1,583.7 247.6,594.0"/><polygon points="265.6,568.5 284.1,578.7 265.6,589.0"/><polygon points="275.4,567.5 293.9,577.7 275.4,588.0"/><polygon points="317.4,560.5 335.9,570.8 317.4,581.0"/><polygon points="356.2,555.1 374.8,565.4 356.2,575.6"/><polygon points="400.1,548.5 418.6,558.8 400.1,569.0"/><polygon points="442.9,542.5 461.4,552.8 442.9,563.0"/><polygon points="480.9,537.5 499.4,547.8 480.9,558.0"/><polygon points="521.8,532.5 540.2,542.8 521.8,553.0"/><polygon points="562.6,526.6 581.1,536.9 562.6,547.1"/><polygon points="604.6,522.4 623.1,532.6 604.6,542.9"/><polygon points="644.5,516.4 663.0,526.6 644.5,536.9"/><polygon points="665.5,513.8 684.0,524.0 665.5,534.2"/><polygon points="686.5,510.4 705.0,520.6 686.5,530.9"/><polygon points="762.1,500.4 780.6,510.7 762.1,521.0"/><polygon points="836.0,489.4 854.5,499.7 836.0,509.9"/><polygon points="846.0,488.4 864.5,498.7 846.0,508.9"/><polygon points="929.6,471.4 948.1,481.6 929.6,491.9"/><polygon points="978.5,433.4 997.0,443.7 978.5,453.9"/><polygon points="1007.5,378.6 1026.0,388.9 1007.5,399.1"/><polygon points="1100.2,353.6 1118.7,363.9 1100.2,374.1"/><polygon points="1173.5,346.1 1192.0,356.4 1173.5,366.6"/><polygon points="1252.8,344.1 1271.2,354.4 1252.8,364.6"/><polygon points="1333.0,343.2 1351.5,353.5 1333.0,363.8"/><polygon points="1414.3,342.4 1432.8,352.7 1414.3,362.9"/><polygon points="1495.7,340.9 1514.2,351.1 1495.7,361.4"/><polygon points="1578.7,342.4 1597.2,352.7 1578.7,362.9"/><polygon points="1658.0,339.8 1676.5,350.0 1658.0,360.2"/><polygon points="1711.2,338.9 1729.7,349.1 1711.2,359.4"/><polygon points="1760.8,338.1 1779.2,348.3 1760.8,358.6"/><polygon points="1780.2,336.9 1798.8,347.2 1780.2,357.4"/><polygon points="1811.8,335.9 1830.2,346.2 1811.8,356.4"/><polygon points="1008.5,461.4 1027.0,471.6 1008.5,481.9"/><polygon points="1089.8,445.4 1108.3,455.7 1089.8,465.9"/><polygon points="1171.0,428.4 1189.5,438.7 1171.0,448.9"/><polygon points="1252.8,409.6 1271.2,419.8 1252.8,430.1"/><polygon points="1335.3,389.6 1353.8,399.8 1335.3,410.1"/><polygon points="1419.0,370.4 1437.5,380.6 1419.0,390.9"/><polygon points="1502.8,355.2 1521.3,365.5 1502.8,375.8"/><polygon points="1578.7,346.4 1597.2,356.7 1578.7,366.9"/><circle cx="221.5" cy="375.4" r="9.0"/><circle cx="254.4" cy="365.8" r="9.0"/><circle cx="307.7" cy="358.2" r="9.0"/><circle cx="346.2" cy="353.4" r="9.0"/><circle cx="379.5" cy="349.9" r="9.0"/><circle cx="412.0" cy="346.9" r="9.0"/><circle cx="434.3" cy="344.9" r="9.0"/><circle cx="444.3" cy="343.9" r="9.0"/><circle cx="469.6" cy="340.9" r="9.0"/><circle cx="502.1" cy="337.5" r="9.0"/><circle cx="533.0" cy="334.9" r="9.0"/><circle cx="605.9" cy="327.6" r="9.0"/><circle cx="615.9" cy="326.6" r="9.0"/><circle cx="671.3" cy="320.6" r="9.0"/><circle cx="690.1" cy="318.0" r="9.0"/><circle cx="753.9" cy="311.6" r="9.0"/><circle cx="770.4" cy="308.6" r="9.0"/><circle cx="853.6" cy="296.7" r="9.0"/><circle cx="861.0" cy="295.8" r="9.0"/><circle cx="932.9" cy="283.6" r="9.0"/><circle cx="1010.7" cy="259.5" r="9.0"/><circle cx="1085.8" cy="230.6" r="9.0"/><circle cx="1180.8" cy="139.9" r="9.0"/><circle cx="1262.2" cy="82.6" r="9.0"/><circle cx="1349.1" cy="64.3" r="9.0"/><circle cx="1425.7" cy="57.9" r="9.0"/><circle cx="1502.9" cy="52.8" r="9.0"/><circle cx="1544.7" cy="51.8" r="9.0"/><circle cx="1583.6" cy="47.9" r="9.0"/><circle cx="1626.5" cy="45.9" r="9.0"/><circle cx="1640.5" cy="46.9" r="9.0"/><circle cx="1661.4" cy="49.9" r="9.0"/><circle cx="1683.3" cy="43.9" r="9.0"/><circle cx="1702.3" cy="43.9" r="9.0"/><circle cx="1730.2" cy="40.9" r="9.0"/><circle cx="1741.2" cy="40.9" r="9.0"/><circle cx="1765.0" cy="37.5" r="9.0"/><circle cx="1775.0" cy="35.9" r="9.0"/><circle cx="1786.0" cy="34.0" r="9.0"/><circle cx="1795.0" cy="31.9" r="9.0"/><circle cx="1806.0" cy="30.0" r="9.0"/><circle cx="1817.0" cy="27.9" r="9.0"/><circle cx="1010.7" cy="271.5" r="9.0"/><circle cx="1091.0" cy="254.5" r="9.0"/><circle cx="1170.6" cy="234.6" r="9.0"/><circle cx="1250.7" cy="208.7" r="9.0"/><circle cx="1330.5" cy="177.6" r="9.0"/><circle cx="1415.0" cy="137.7" r="9.0"/><circle cx="1504.9" cy="92.7" r="9.0"/><circle cx="1538.8" cy="79.8" r="9.0"/><circle cx="1578.6" cy="66.8" r="9.0"/><circle cx="1622.5" cy="55.8" r="9.0"/></g>
<g id="axes"><line x1="205.5" y1="17" x2="205.5" y2="1350" stroke="#000" stroke-width="4.6"/><line x1="190.5" y1="1322.8" x2="1991" y2="1322.8" stroke="#000" stroke-width="4.4"/><line x1="177" y1="19.3" x2="206" y2="19.3" stroke="#000" stroke-width="4"/><line x1="190.5" y1="61.3" x2="206" y2="61.3" stroke="#000" stroke-width="4"/><line x1="177" y1="103.4" x2="206" y2="103.4" stroke="#000" stroke-width="4"/><line x1="190.5" y1="145.4" x2="206" y2="145.4" stroke="#000" stroke-width="4"/><line x1="177" y1="187.5" x2="206" y2="187.5" stroke="#000" stroke-width="4"/><line x1="190.5" y1="229.6" x2="206" y2="229.6" stroke="#000" stroke-width="4"/><line x1="177" y1="271.6" x2="206" y2="271.6" stroke="#000" stroke-width="4"/><line x1="190.5" y1="313.6" x2="206" y2="313.6" stroke="#000" stroke-width="4"/><line x1="177" y1="355.7" x2="206" y2="355.7" stroke="#000" stroke-width="4"/><line x1="190.5" y1="397.8" x2="206" y2="397.8" stroke="#000" stroke-width="4"/><line x1="177" y1="439.8" x2="206" y2="439.8" stroke="#000" stroke-width="4"/><line x1="190.5" y1="481.9" x2="206" y2="481.9" stroke="#000" stroke-width="4"/><line x1="177" y1="523.9" x2="206" y2="523.9" stroke="#000" stroke-width="4"/><line x1="190.5" y1="565.9" x2="206" y2="565.9" stroke="#000" stroke-width="4"/><line x1="177" y1="608.0" x2="206" y2="608.0" stroke="#000" stroke-width="4"/><line x1="190.5" y1="650.0" x2="206" y2="650.0" stroke="#000" stroke-width="4"/><line x1="177" y1="692.1" x2="206" y2="692.1" stroke="#000" stroke-width="4"/><line x1="190.5" y1="734.1" x2="206" y2="734.1" stroke="#000" stroke-width="4"/><line x1="177" y1="776.2" x2="206" y2="776.2" stroke="#000" stroke-width="4"/><line x1="190.5" y1="818.2" x2="206" y2="818.2" stroke="#000" stroke-width="4"/><line x1="177" y1="860.3" x2="206" y2="860.3" stroke="#000" stroke-width="4"/><line x1="190.5" y1="902.3" x2="206" y2="902.3" stroke="#000" stroke-width="4"/><line x1="177" y1="944.4" x2="206" y2="944.4" stroke="#000" stroke-width="4"/><line x1="190.5" y1="986.4" x2="206" y2="986.4" stroke="#000" stroke-width="4"/><line x1="177" y1="1028.5" x2="206" y2="1028.5" stroke="#000" stroke-width="4"/><line x1="190.5" y1="1070.5" x2="206" y2="1070.5" stroke="#000" stroke-width="4"/><line x1="177" y1="1112.6" x2="206" y2="1112.6" stroke="#000" stroke-width="4"/><line x1="190.5" y1="1154.6" x2="206" y2="1154.6" stroke="#000" stroke-width="4"/><line x1="177" y1="1196.7" x2="206" y2="1196.7" stroke="#000" stroke-width="4"/><line x1="190.5" y1="1238.7" x2="206" y2="1238.7" stroke="#000" stroke-width="4"/><line x1="177" y1="1280.8" x2="206" y2="1280.8" stroke="#000" stroke-width="4"/><line x1="530.0" y1="1322.8" x2="530.0" y2="1349.5" stroke="#000" stroke-width="4.2"/><line x1="854.5" y1="1322.8" x2="854.5" y2="1349.5" stroke="#000" stroke-width="4.2"/><line x1="1179.0" y1="1322.8" x2="1179.0" y2="1349.5" stroke="#000" stroke-width="4.2"/><line x1="1503.5" y1="1322.8" x2="1503.5" y2="1349.5" stroke="#000" stroke-width="4.2"/><line x1="1828.0" y1="1322.8" x2="1828.0" y2="1349.5" stroke="#000" stroke-width="4.2"/></g>
<g id="texts"><text id="tk0" transform="translate(166.47,1412.50) scale(1.0137,1.0011)" style="font-size:62px;font-weight:bold;fill:#000">0.0</text><text id="tk1" transform="translate(490.97,1412.50) scale(1.0137,1.0011)" style="font-size:62px;font-weight:bold;fill:#000">0.2</text><text id="tk2" transform="translate(815.50,1412.50) scale(1.0000,1.0011)" style="font-size:62px;font-weight:bold;fill:#000">0.4</text><text id="tk3" transform="translate(1140.00,1412.50) scale(1.0000,1.0011)" style="font-size:62px;font-weight:bold;fill:#000">0.6</text><text id="tk4" transform="translate(1464.47,1412.50) scale(1.0137,1.0011)" style="font-size:62px;font-weight:bold;fill:#000">0.8</text><text id="tk5" transform="translate(1785.71,1412.50) scale(1.0571,1.0011)" style="font-size:62px;font-weight:bold;fill:#000">1.0</text><text id="xt_main" transform="translate(795.97,1510.20) scale(1.0325,1.0000)" style="font-size:66px;font-weight:bold;fill:#000">Relative pressure (P/P</text><text id="xt_sub" transform="translate(1442.60,1534.68) scale(1.0686,1.0508)" style="font-size:36px;font-weight:bold;fill:#000">0</text><text id="xt_par" transform="translate(1462.82,1510.20) scale(0.9693,1.0000)" style="font-size:66px;font-weight:bold;fill:#000">)</text><text id="yt_main" transform="translate(102.20,1072.48) rotate(-90) scale(0.9657,1.0000)" style="font-size:71px;font-weight:bold;fill:#000">Volume adsorded (cm</text><text id="yt_sup" transform="translate(63.28,434.19) rotate(-90) scale(1.0888,1.0027)" style="font-size:40px;font-weight:normal;fill:#000">3</text><text id="yt_end" transform="translate(102.20,411.06) rotate(-90) scale(0.9352,1.0000)" style="font-size:71px;font-weight:bold;fill:#000">/g)</text><text id="l25" transform="translate(474.61,280.30) scale(0.9944,1.0000)" style="font-size:51px;font-weight:normal;fill:#2e2e2e">25% Nb/Al oxide</text><text id="l20" transform="translate(466.02,481.30) scale(0.9921,1.0000)" style="font-size:51px;font-weight:normal;fill:#2e2e2e">20% Nb/Al oxide</text><text id="l15" transform="translate(465.10,667.40)" style="font-size:51px;font-weight:normal;fill:#2e2e2e">15% Nb/Al oxide</text><text id="l10" transform="translate(473.70,831.40)" style="font-size:51px;font-weight:normal;fill:#2e2e2e">10% Nb/Al oxide</text><text id="n1" transform="translate(448.70,967.00)" style="font-size:51px;font-weight:normal;fill:#2e2e2e">10% Nb</text><text id="n2" transform="translate(616.25,987.00) scale(1.1580,1.0000)" style="font-size:30px;font-weight:normal;fill:#4d4d4d">2</text><text id="n3" transform="translate(632.39,967.00) scale(1.0330,1.0000)" style="font-size:51px;font-weight:normal;fill:#2e2e2e">O</text><text id="n4" transform="translate(669.59,987.00) scale(0.9526,1.0000)" style="font-size:30px;font-weight:normal;fill:#4d4d4d">5</text><text id="n5" transform="translate(684.00,967.00) scale(0.9922,1.0000)" style="font-size:51px;font-weight:normal;fill:#2e2e2e">/nano-Al</text><text id="n6" transform="translate(865.18,987.00) scale(0.8695,1.0000)" style="font-size:30px;font-weight:normal;fill:#4d4d4d">2</text><text id="n7" transform="translate(879.56,967.00) scale(0.9640,1.0000)" style="font-size:51px;font-weight:normal;fill:#2e2e2e">O</text><text id="n8" transform="translate(916.72,987.00) scale(0.8326,1.0000)" style="font-size:30px;font-weight:normal;fill:#4d4d4d">3</text><text id="b1" transform="translate(514.50,1108.20)" style="font-size:51px;font-weight:normal;fill:#2e2e2e">Nb</text><text id="b2" transform="translate(574.92,1128.30) scale(1.0833,1.0000)" style="font-size:30px;font-weight:normal;fill:#4d4d4d">2</text><text id="b3" transform="translate(589.85,1108.20) scale(1.0513,1.0000)" style="font-size:51px;font-weight:normal;fill:#2e2e2e">O</text><text id="b4" transform="translate(627.17,1128.30) scale(0.9167,1.0000)" style="font-size:30px;font-weight:normal;fill:#4d4d4d">5</text><text id="a1" transform="translate(515.50,1207.30)" style="font-size:51px;font-weight:normal;fill:#2e2e2e">Al</text><text id="a2" transform="translate(565.85,1227.40) scale(1.0693,1.0000)" style="font-size:30px;font-weight:normal;fill:#4d4d4d">2</text><text id="a3" transform="translate(581.91,1207.30) scale(1.0321,1.0000)" style="font-size:51px;font-weight:normal;fill:#2e2e2e">O</text><text id="a4" transform="translate(618.42,1227.40) scale(1.0122,1.0000)" style="font-size:30px;font-weight:normal;fill:#4d4d4d">3</text></g>
</svg></body></html>
